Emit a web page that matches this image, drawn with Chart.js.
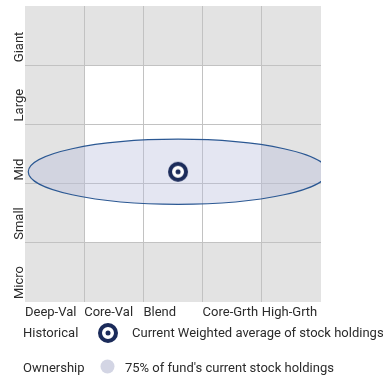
<!DOCTYPE html>
<html>
<head>
<meta charset="utf-8">
<script src="https://cdn.jsdelivr.net/npm/chart.js@4"></script>
<style>
  html, body { margin: 0; padding: 0; background: #fff; }
  canvas { display: block; }
</style>
</head>
<body>
<canvas id="styleBox" width="383" height="381"></canvas>
<script>
// style columns (left to right) and size rows (bottom to top)
const styleLabels = ["Deep-Val", "Core-Val", "Blend", "Core-Grth", "High-Grth"];
const sizeLabels = ["Micro", "Small", "Mid", "Large", "Giant"];

// current weighted average of holdings, in box units
const currentStyle = [2.585];
const currentSize = [2.2];

// ownership zone (75% of holdings): centre and half-spread
const zoneCenter = [2.585, 2.2];
const zoneSpread = [2.53, 0.55];

const legendRows = [
  ["Historical", "Current Weighted average of stock holdings"],
  ["Ownership", "75% of fund's current stock holdings"],
];

const FONT = "Roboto, sans-serif";
const TEXT = "#2b2b2b";
const NAVY = "#1b2b5a";

// bullseye marker, drawn once and reused as the point style
function makeMarker() {
  const c = document.createElement("canvas");
  c.width = 22;
  c.height = 22;
  const g = c.getContext("2d");
  g.beginPath();
  g.arc(11, 11, 8, 0, Math.PI * 2);
  g.fillStyle = "#fff";
  g.fill();
  g.lineWidth = 4;
  g.strokeStyle = NAVY;
  g.stroke();
  g.beginPath();
  g.arc(11, 11, 2.5, 0, Math.PI * 2);
  g.fillStyle = NAVY;
  g.fill();
  return c;
}
const marker = makeMarker();

const boxPlugin = {
  id: "boxPlugin",
  beforeDraw(chart) {
    const { ctx, chartArea: a, scales: { x, y } } = chart;
    ctx.save();
    ctx.fillStyle = "#e3e3e3";
    ctx.fillRect(a.left, a.top, a.right - a.left, a.bottom - a.top);
    // core 3x3 area is white
    ctx.fillStyle = "#ffffff";
    const l = x.getPixelForValue(1), r = x.getPixelForValue(4);
    const t = y.getPixelForValue(4), b = y.getPixelForValue(1);
    ctx.fillRect(l, t, r - l, b - t);
    ctx.restore();
  },
  beforeDatasetsDraw(chart) {
    const { ctx, chartArea: a, scales: { x, y } } = chart;
    const cx = x.getPixelForValue(zoneCenter[0]);
    const cy = y.getPixelForValue(zoneCenter[1]);
    const rx = x.getPixelForValue(zoneCenter[0] + zoneSpread[0]) - cx;
    const ry = cy - y.getPixelForValue(zoneCenter[1] + zoneSpread[1]);
    ctx.save();
    ctx.beginPath();
    ctx.rect(a.left, a.top, a.right - a.left, a.bottom - a.top);
    ctx.clip();
    ctx.beginPath();
    ctx.ellipse(cx, cy, rx, ry, 0, 0, Math.PI * 2);
    ctx.fillStyle = "rgba(185, 190, 220, 0.38)";
    ctx.fill();
    ctx.lineWidth = 1.2;
    ctx.strokeStyle = "#2b5893";
    ctx.stroke();
    ctx.restore();
  },
  afterDraw(chart) {
    const { ctx, chartArea: a, scales: { y } } = chart;
    ctx.save();
    ctx.font = "13px " + FONT;
    ctx.fillStyle = TEXT;

    // size labels, rotated, starting at the bottom of each row
    ctx.textAlign = "left";
    ctx.textBaseline = "alphabetic";
    sizeLabels.forEach((label, i) => {
      ctx.save();
      ctx.translate(a.left - 2, y.getPixelForValue(i) - 3);
      ctx.rotate(-Math.PI / 2);
      ctx.fillText(label, 0, 0);
      ctx.restore();
    });

    // legend
    const rowY = [337, 372];
    legendRows.forEach((row, i) => {
      ctx.fillText(row[0], 23, rowY[i]);
      ctx.fillText(row[1], i === 0 ? 132 : 125, rowY[i]);
    });
    ctx.drawImage(marker, 97, 322);
    ctx.beginPath();
    ctx.arc(107.5, 366.5, 7, 0, Math.PI * 2);
    ctx.fillStyle = "#d3d5e4";
    ctx.fill();
    ctx.restore();
  },
};

const gridColor = (c) => (c.tick.value === 0 || c.tick.value === 5 ? "rgba(0,0,0,0)" : "#c2c2c2");

const chart = new Chart(document.getElementById("styleBox").getContext("2d"), {
  type: "scatter",
  data: {
    datasets: [
      {
        data: currentStyle.map((v, i) => ({ x: v, y: currentSize[i] })),
        pointStyle: marker,
        pointRadius: 0.1,
        borderWidth: 0,
      },
    ],
  },
  options: {
    responsive: false,
    animation: false,
    events: [],
    layout: { padding: { left: 25, right: 62, top: 6, bottom: 0 } },
    plugins: { legend: { display: false }, tooltip: { enabled: false } },
    scales: {
      x: {
        type: "linear",
        min: 0,
        max: 5,
        grid: { color: gridColor, drawTicks: false, lineWidth: 1 },
        border: { display: false },
        ticks: {
          stepSize: 1,
          autoSkip: false,
          maxRotation: 0,
          align: "start",
          padding: 3,
          color: TEXT,
          font: { family: FONT, size: 13 },
          callback: (value) => styleLabels[value] ?? "",
        },
        afterFit: (scale) => { scale.height = 79; },
      },
      y: {
        type: "linear",
        min: 0,
        max: 5,
        grid: { color: gridColor, drawTicks: false, lineWidth: 1 },
        border: { display: false },
        ticks: { stepSize: 1, display: false },
        afterFit: (scale) => { scale.width = 0; },
      },
    },
  },
  plugins: [boxPlugin],
});
</script>
</body>
</html>
